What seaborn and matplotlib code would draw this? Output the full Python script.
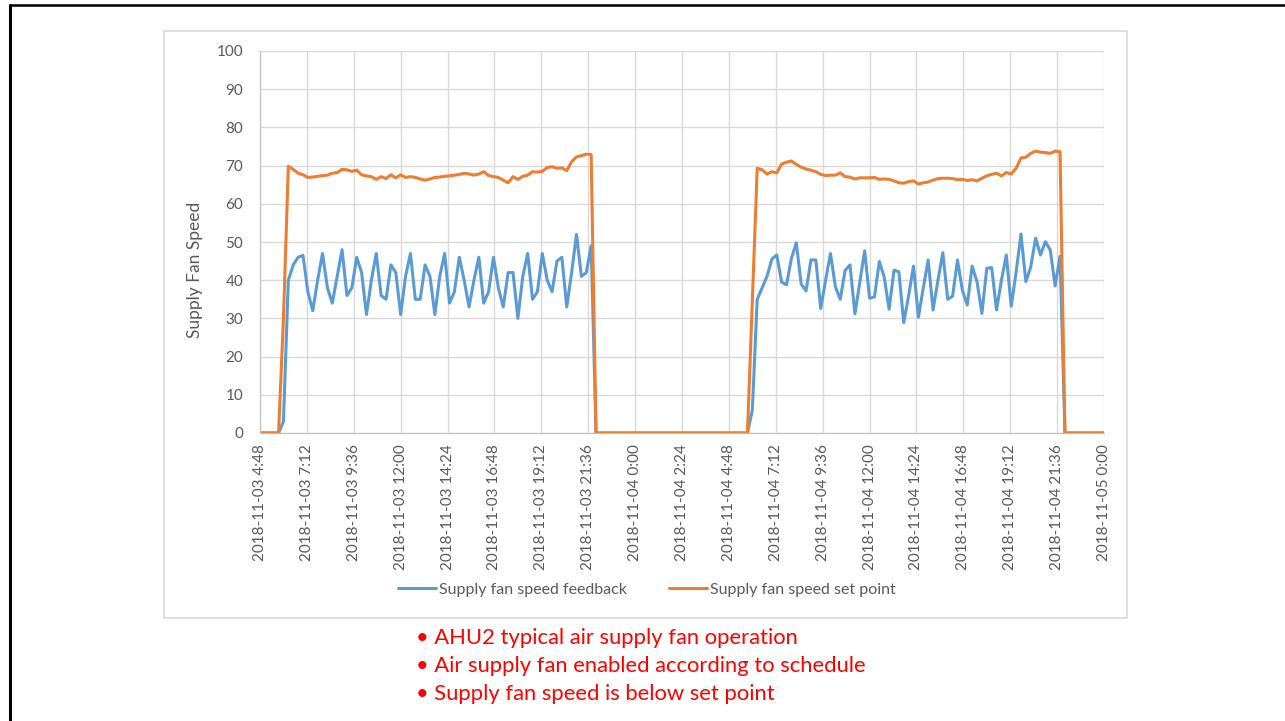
import numpy as np
import pandas as pd
import matplotlib
matplotlib.use('Agg')
import matplotlib.pyplot as plt
from matplotlib.lines import Line2D
from matplotlib.patches import Rectangle
import seaborn as sns

# Valores (muestras cada 15 min, de 6:00 a 21:45 cada dia).
feedback_day1 = [3, 40, 44, 46, 46.5, 37, 32, 40, 47, 38,
                 34, 41, 48, 36, 38, 46, 42, 31, 40, 47,
                 36, 35, 44, 42, 31, 41, 47, 35, 35, 44,
                 41, 31, 41, 47, 34, 37, 46, 40, 33, 40,
                 46, 34, 37, 46, 38, 33, 42, 42, 30, 41,
                 47, 35, 37, 47, 40, 37, 45, 46, 33, 42,
                 52, 41, 42, 49]
setpoint_day1 = [30, 69.8, 69, 68, 67.6, 66.9, 67, 67.2, 67.4, 67.5,
                 68, 68.2, 69, 68.9, 68.5, 68.8, 67.6, 67.3, 67.1, 66.4,
                 67.1, 66.6, 67.6, 66.8, 67.6, 66.9, 67.1, 66.9, 66.5, 66.2,
                 66.5, 66.9, 67, 67.2, 67.3, 67.5, 67.7, 68, 67.8, 67.5,
                 67.8, 68.4, 67.4, 67.1, 66.9, 66.2, 65.5, 67.1, 66.4, 67.2,
                 67.5, 68.4, 68.3, 68.5, 69.5, 69.7, 69.3, 69.4, 68.7, 71,
                 72.3, 72.6, 73, 72.9]
feedback_day2 = [6, 35, 38, 41, 45.5, 46.6, 39.5, 38.8, 45.7, 49.8,
                 39, 37.2, 45.3, 45.3, 32.6, 40, 47, 38.3, 35, 42.6,
                 44, 31.2, 39.5, 47.7, 35.3, 35.6, 44.9, 40.8, 32.4, 42.6,
                 42.2, 28.9, 36, 43.7, 30.3, 38, 45.3, 32.2, 40, 47.2,
                 35, 35.8, 45.3, 37.4, 33.5, 43.7, 39.6, 31.3, 43.1, 43.3,
                 32.2, 40, 46.6, 33.2, 42, 52.1, 39.6, 43.5, 51, 46.6,
                 50.1, 47.9, 38.5, 46.3]
setpoint_day2 = [35, 69.3, 68.9, 67.8, 68.4, 68.1, 70.4, 70.9, 71.2, 70.3,
                 69.6, 69.1, 68.8, 68.4, 67.7, 67.4, 67.5, 67.5, 68.1, 67.1,
                 67, 66.5, 66.8, 66.8, 66.8, 66.9, 66.4, 66.5, 66.4, 66,
                 65.5, 65.4, 65.8, 66, 65.2, 65.5, 65.7, 66.2, 66.6, 66.7,
                 66.7, 66.6, 66.3, 66.4, 66.1, 66.3, 66, 66.7, 67.3, 67.7,
                 68, 67.3, 68.2, 67.8, 69.3, 72, 72.2, 73.2, 73.8, 73.5,
                 73.4, 73.2, 73.8, 73.6]

series_names = ['Supply fan speed feedback', 'Supply fan speed set point']
series_colors = ['#5B9BD5', '#ED7D31']
bullets = ['• AHU2 typical air supply fan operation',
           '• Air supply fan enabled according to schedule',
           '• Supply fan speed is below set point']

# Serie completa: fuera del horario el ventilador esta apagado (0).
times = pd.date_range('2018-11-03 04:45', '2018-11-05 00:00', freq='15min')
fb = pd.Series(0.0, index=times)
sp = pd.Series(0.0, index=times)
fb['2018-11-03 06:00':'2018-11-03 21:45'] = feedback_day1
sp['2018-11-03 06:00':'2018-11-03 21:45'] = setpoint_day1
fb['2018-11-04 06:00':'2018-11-04 21:45'] = feedback_day2
sp['2018-11-04 06:00':'2018-11-04 21:45'] = setpoint_day2

df = pd.concat([
    pd.DataFrame({'time': times, 'value': fb.values, 'series': series_names[0]}),
    pd.DataFrame({'time': times, 'value': sp.values, 'series': series_names[1]}),
])

sns.set_style('white')
plt.rcParams['font.family'] = ['Lato', 'DejaVu Sans']

W, H = 1285, 721
fig = plt.figure(figsize=(W / 100, H / 100), dpi=100)

# Marco de la diapositiva y del grafico.
fig.add_artist(Line2D([9.5 / W, 9.5 / W], [0, 1 - 5 / H], color='black', lw=2.2))
fig.add_artist(Line2D([9.5 / W, 1], [1 - 5 / H, 1 - 5 / H], color='black', lw=1.8))
fig.add_artist(Rectangle((164 / W, 1 - 618 / H), (1127 - 164) / W, (618 - 31) / H,
                         fill=False, edgecolor='#d9d9d9', lw=1.2))

ax = fig.add_axes([260 / W, 1 - 433 / H, 844 / W, 382 / H])
sns.lineplot(data=df, x='time', y='value', hue='series', palette=series_colors,
             hue_order=series_names, linewidth=2.2, ax=ax)

ticks = pd.date_range('2018-11-03 04:48', periods=19, freq='144min')
ax.set_xlim(ticks[0], ticks[-1])
ax.set_ylim(0, 100)
ax.set_yticks(range(0, 101, 10))
ax.set_xticks(ticks)
ax.set_xticklabels([f"{t:%Y-%m-%d} {t.hour}:{t:%M}" for t in ticks], rotation=90)
ax.tick_params(axis='both', length=0, labelsize=11, labelcolor='#595959')
ax.tick_params(axis='y', pad=12)
ax.tick_params(axis='x', pad=8)
ax.grid(True, color='#d9d9d9', lw=1)
for s in ['top', 'right']:
    ax.spines[s].set_visible(False)
for s in ['left', 'bottom']:
    ax.spines[s].set_color('#bfbfbf')
ax.set_xlabel('')
ax.set_ylabel('')
ax.text((195 - 260) / 844, (433 - 270) / 382, 'Supply Fan Speed', transform=ax.transAxes,
        rotation=90, ha='center', va='center', fontsize=12.5, color='#595959')

ax.legend(loc='center', bbox_to_anchor=(647 / W, 1 - 590 / H),
          bbox_transform=fig.transFigure, ncol=2, frameon=False,
          fontsize=11.5, labelcolor='#595959', handlelength=2.4,
          handletextpad=0.2, columnspacing=2.6)

for i, line in enumerate(bullets):
    fig.text(416 / W, 1 - (638 + 28 * i) / H, line, color='#FF0000',
             fontsize=15.8, va='center', ha='left')

fig.savefig('out.png', dpi=100)
